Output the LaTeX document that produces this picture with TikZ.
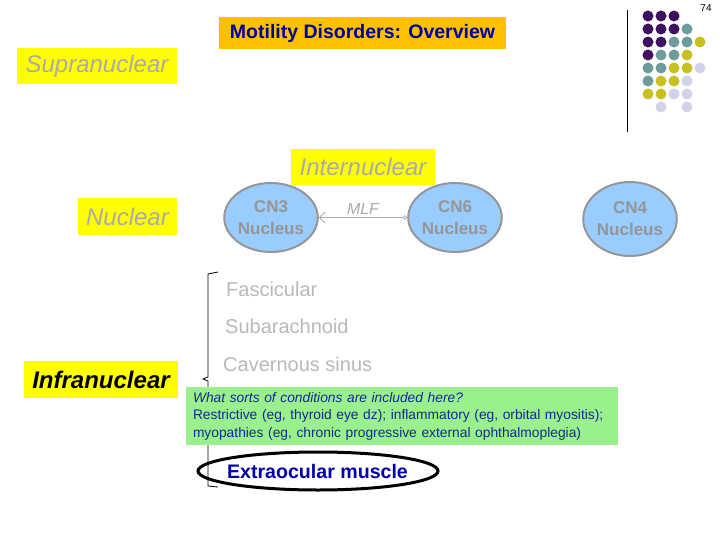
\documentclass[tikz,border=0pt]{standalone}
\usepackage{fontspec}
\setmainfont{Liberation Sans}
\usetikzlibrary{arrows.meta,shapes.geometric}
\definecolor{ttlorange}{RGB}{255,192,0}
\definecolor{hiyellow}{RGB}{255,255,0}
\definecolor{ttlblue}{RGB}{0,0,153}
\definecolor{lblgray}{RGB}{170,170,170}
\definecolor{circgray}{RGB}{150,150,150}
\definecolor{levgray}{RGB}{185,185,185}
\definecolor{nucblue}{RGB}{153,204,255}
\definecolor{notegreen}{RGB}{153,240,140}
\definecolor{notetext}{RGB}{20,40,150}
\definecolor{eomblue}{RGB}{0,0,170}
\definecolor{dpurple}{RGB}{64,16,96}
\definecolor{dteal}{RGB}{110,155,155}
\definecolor{dolive}{RGB}{200,192,32}
\definecolor{dlav}{RGB}{210,210,232}
\tikzset{
  levelbox/.style={fill=hiyellow, inner sep=0pt, font=\fontsize{24}{28}\selectfont\itshape, text=lblgray},
  nucleus/.style={ellipse, draw=circgray, line width=2pt, fill=nucblue, inner sep=0pt, align=center,
    text=circgray, font=\fontsize{17}{22}\selectfont\bfseries},
  sitelbl/.style={anchor=west, inner sep=0pt, text=levgray, font=\fontsize{20}{24}\selectfont},
  dotp/.style={circle, fill=dpurple, minimum size=11pt, inner sep=0pt},
  dott/.style={circle, fill=dteal, minimum size=11pt, inner sep=0pt},
  doto/.style={circle, fill=dolive, minimum size=11pt, inner sep=0pt},
  dotl/.style={circle, fill=dlav, minimum size=11pt, inner sep=0pt},
}
\def\nodot{n}
\begin{document}
\begin{tikzpicture}[x=1pt,y=-1pt]
\useasboundingbox[fill=white] (0,0) rectangle (720,540);

% page number
\node[font=\fontsize{10}{12}\selectfont, inner sep=0pt] (pagenum) at (706,8) {74};

% decorative rule and dots
\coordinate (ruletop) at (627,10);
\coordinate (rulebot) at (627,132);
\draw[line width=1pt] (ruletop) -- (rulebot);

\foreach \r/\row in {0/{p,p,p,n,n},1/{p,p,p,t,n},2/{p,p,t,t,o},3/{p,t,t,o,n},4/{t,t,o,o,l},5/{t,o,o,l,n},6/{o,o,l,l,n},7/{n,l,n,l,n}}{
  \foreach \c [count=\ci from 0] in \row {
    \ifx\c\nodot\else
      \node[dot\c] (dot-\r-\ci) at ({648+13*\ci},{16+13*\r}) {};
    \fi
  }
}

% title
\node[fill=ttlorange, minimum width=287pt, minimum height=32pt, inner sep=0pt,
  text=ttlblue, font=\fontsize{19.5}{22}\selectfont\bfseries] (title) at (362.5,33) {Motility Disorders: Overview};

% level labels
\node[levelbox, minimum width=160pt, minimum height=36pt] (supra) at (97,66) {Supranuclear};
\node[levelbox, minimum width=99pt, minimum height=37pt] (nuclear) at (127.5,216.5) {Nuclear};
\node[levelbox, minimum width=154pt, minimum height=37pt, text=black, font=\fontsize{24}{28}\selectfont\bfseries\itshape] (infra) at (101,379.5) {Infranuclear};

% nuclei
\node[nucleus, minimum width=88pt, minimum height=69pt] (cn3) at (271,217.5) {CN3\\Nucleus};
\node[nucleus, minimum width=86pt, minimum height=69pt] (cn6) at (455,217.5) {CN6\\Nucleus};
\node[nucleus, minimum width=85pt, minimum height=74pt] (cn4) at (630,219) {CN4\\Nucleus};

\node[levelbox, minimum width=144pt, minimum height=36pt] (inter) at (363,167) {Internuclear};

% MLF
\draw[lblgray, line width=0.8pt, {Straight Barb[length=6pt,width=11pt]}-{Circle[open,length=4.5pt]}] (cn3.east) -- (cn6.west)
  node[midway, above=3pt, inner sep=0pt, text=lblgray, font=\fontsize{16}{18}\selectfont\itshape] (mlf) {MLF};

% brace
\coordinate (brtop) at (218,272);
\coordinate (brbot) at (218,487);
\draw[line width=0.8pt] (brtop) -- (208,274) -- (208,377) -- (203,379) -- (208,381) -- (208,486) -- (brbot);

% infranuclear sites
\node[sitelbl] (fasc) at (226,289) {Fascicular};
\node[sitelbl] (subar) at (225,326) {Subarachnoid};
\node[sitelbl] (cav) at (223,364) {Cavernous sinus};

% note
\node[fill=notegreen, minimum width=432pt, minimum height=58pt, text width=418pt, inner xsep=7pt, inner ysep=0pt,
  align=left, text=notetext, font=\fontsize{13.8}{17.5}\selectfont] (note) at (402,416)
  {\textit{What sorts of conditions are included here?}\\
   Restrictive (eg, thyroid eye dz); inflammatory (eg, orbital myositis);\\
   myopathies (eg, chronic progressive external ophthalmoplegia)};

% extraocular muscle
\node[ellipse, draw=black, line width=3pt, minimum width=240pt, minimum height=38pt, inner sep=0pt] (eomring) at (318,471) {};
\node[text=eomblue, inner sep=0pt, font=\fontsize{19.6}{22}\selectfont\bfseries] (eom) at (317.5,471) {Extraocular muscle};

\end{tikzpicture}
\end{document}
